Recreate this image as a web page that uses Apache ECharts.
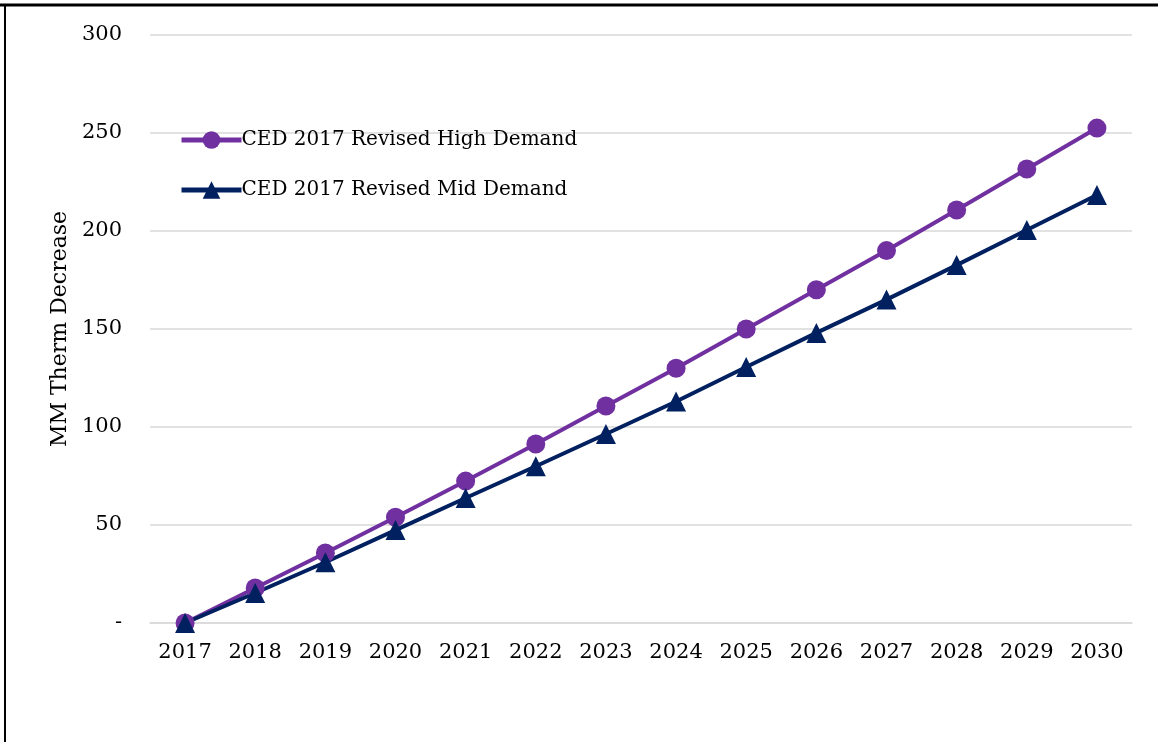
<!DOCTYPE html>
<html>
<head>
<meta charset="utf-8">
<script src="https://cdn.jsdelivr.net/npm/echarts@6/dist/echarts.min.js"></script>
<style>
  html, body { margin: 0; padding: 0; background: #fff; }
  #chart { width: 1158px; height: 742px; }
</style>
</head>
<body>
<div id="chart"></div>
<script type="text/javascript">
// 数据
var years = ['2017','2018','2019','2020','2021','2022','2023','2024','2025','2026','2027','2028','2029','2030'];
var highDemand = [0, 17.9, 35.7, 54, 72.4, 91.3, 110.7, 130, 150, 170, 190, 210.7, 231.6, 252.5];
var midDemand = [0, 15.3, 31, 47.4, 63.8, 80, 96.4, 113, 130.6, 148, 165, 182.6, 200.5, 218.4];
var seriesNames = ['CED 2017 Revised High Demand', 'CED 2017 Revised Mid Demand'];

var serif = 'DejaVu Serif';
var myChart = echarts.init(document.getElementById('chart'));
var option = {
  backgroundColor: '#fff',
  animation: false,
  graphic: [
    { type: 'line', shape: { x1: 0, y1: 5, x2: 1158, y2: 5 }, style: { stroke: '#000', lineWidth: 3 } },
    { type: 'line', shape: { x1: 5, y1: 5, x2: 5, y2: 742 }, style: { stroke: '#000', lineWidth: 2 } }
  ],
  legend: {
    orient: 'vertical',
    left: 174,
    top: 125,
    itemWidth: 60,
    itemHeight: 22,
    itemGap: 30,
    lineStyle: { width: 5 },
    textStyle: { fontFamily: serif, fontSize: 20, color: '#000', padding: [0, 0, 0, -5] },
    data: seriesNames
  },
  grid: { left: 150, right: 26, top: 35, bottom: 119 },
  xAxis: {
    type: 'category',
    data: years,
    axisLine: { lineStyle: { color: '#d9d9d9', width: 1.5 } },
    axisTick: { show: false },
    axisLabel: { fontFamily: serif, fontSize: 21, color: '#000', margin: 19, interval: 0 }
  },
  yAxis: {
    type: 'value',
    name: 'MM Therm Decrease',
    nameLocation: 'middle',
    nameGap: 78,
    nameTextStyle: { fontFamily: serif, fontSize: 22, color: '#000' },
    min: 0,
    max: 300,
    interval: 50,
    axisLine: { show: false },
    axisTick: { show: false },
    axisLabel: {
      fontFamily: serif, fontSize: 21, color: '#000', margin: 28,
      formatter: function (v) { return v === 0 ? '-' : v; }
    },
    splitLine: { lineStyle: { color: '#d9d9d9', width: 1.5 } }
  },
  series: [
    {
      name: seriesNames[0],
      type: 'line',
      data: highDemand,
      symbol: 'circle',
      symbolSize: 19,
      color: '#7030A0',
      lineStyle: { width: 4, color: '#7030A0' },
      itemStyle: { color: '#7030A0' }
    },
    {
      name: seriesNames[1],
      type: 'line',
      data: midDemand,
      symbol: 'triangle',
      symbolSize: 20,
      color: '#002060',
      lineStyle: { width: 4, color: '#002060' },
      itemStyle: { color: '#002060' }
    }
  ]
};
myChart.setOption(option);
</script>
</body>
</html>
